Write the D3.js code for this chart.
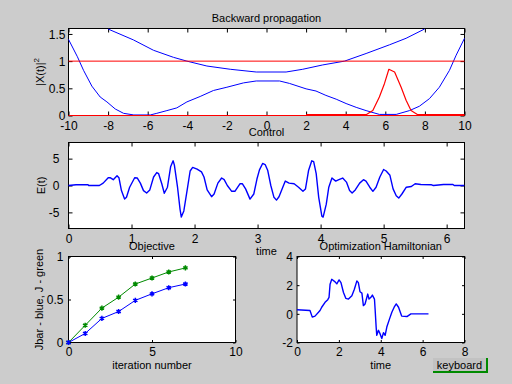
<!DOCTYPE html>
<html>
<head>
<meta charset="utf-8">
<script src="https://cdn.jsdelivr.net/npm/d3@7"></script>
<style>
  body { margin: 0; background: #cccccc; }
  svg { display: block; font-family: "Liberation Sans", Arial, Helvetica, sans-serif; }
</style>
</head>
<body>
<div id="plot"></div>
<script>
// top panel: two potential curves, wave packet, reference levels
var potLowX = [-10, -9.55, -9.24, -8.82, -8.4, -8.06, -7.64, -7.22, -6.7, -5.87, -5.54, -5.03, -4.53, -4.02, -3.35, -2.68, -2.0, -1.16, -0.52, 0.66, 1.16, 2.0, 2.5, 3.0, 3.52, 4.02, 4.53, 5.03, 5.7, 6.55, 7.22, 7.72, 8.23, 8.73, 9.24, 9.58, 10]
var potLow = [1.40, 1.08, 0.83, 0.54, 0.34, 0.25, 0.12, 0.04, 0.01, 0.01, 0.04, 0.09, 0.14, 0.25, 0.35, 0.46, 0.52, 0.60, 0.635, 0.635, 0.59, 0.49, 0.45, 0.37, 0.30, 0.22, 0.15, 0.09, 0.02, 0.02, 0.09, 0.17, 0.31, 0.52, 0.83, 1.11, 1.42]
var potUpX = [-8, -6.72, -5.71, -4.7, -4.02, -3.01, -1.83, -0.52, 0.99, 1.83, 2.84, 3.94, 5.03, 6.21, 7.05, 7.98]
var potUp = [1.59, 1.39, 1.20, 1.07, 1.0, 0.91, 0.85, 0.80, 0.80, 0.85, 0.93, 1.0, 1.14, 1.30, 1.42, 1.59]
var waveX = [2, 5.03, 5.37, 5.7, 5.96, 6.18, 6.47, 6.8, 7.05, 7.3, 7.64, 10]
var wave = [0.015, 0.015, 0.09, 0.34, 0.59, 0.85, 0.80, 0.52, 0.28, 0.09, 0.015, 0.015]
var levels = [0, 1]

// middle panel: control field
var tE = [0, 0.12, 0.31, 0.32, 0.49, 0.55, 0.63, 0.66, 0.71, 0.77, 0.80, 0.84, 0.89, 0.92, 0.97, 1.05, 1.09, 1.14, 1.19, 1.24, 1.29, 1.35, 1.40, 1.43, 1.48, 1.52, 1.57, 1.62, 1.66, 1.68, 1.73, 1.77, 1.79, 1.83, 1.89, 1.93, 1.97, 2.04, 2.11, 2.15, 2.20, 2.27, 2.31, 2.37, 2.43, 2.47, 2.52, 2.59, 2.64, 2.72, 2.76, 2.81, 2.88, 2.94, 2.99, 3.03, 3.08, 3.12, 3.16, 3.21, 3.26, 3.30, 3.34, 3.40, 3.44, 3.50, 3.58, 3.65, 3.72, 3.76, 3.81, 3.86, 3.89, 3.93, 3.97, 4.02, 4.04, 4.09, 4.13, 4.18, 4.24, 4.29, 4.35, 4.41, 4.46, 4.50, 4.55, 4.62, 4.68, 4.72, 4.78, 4.83, 4.88, 4.94, 5.0, 5.04, 5.10, 5.15, 5.20, 5.24, 5.29, 5.36, 5.44, 5.50, 5.59, 5.76, 5.79, 5.95, 6.10, 6.12, 6.28]
var E = [0, 0.13, 0.13, 0, 0, 0.44, 1.45, 1.45, 1.08, 1.83, 1.45, -0.95, -2.53, -2.2, -0.32, 1.45, 1.4, 0.44, -0.95, -1.39, -0.82, 1.58, 2.4, 2.2, 0.32, -1.45, -0.32, 3.47, 4.6, 3.8, -0.32, -4.43, -5.88, -4.74, -0.32, 2.7, 3.36, 3.04, 2.53, 1.58, -0.82, -2.09, -1.58, 0.44, 1.39, 1.08, 0, -1.08, -1.08, 0.32, 0.32, -0.63, -2.53, -1.58, 1.2, 2.9, 4.1, 3.9, 2.85, 0, -2.2, -2.72, -2.09, -0.32, 0.82, 0.44, 0.32, -0.32, -1.08, -0.63, 2.85, 4.6, 4.43, 2.2, -2.2, -5.7, -5.88, -3.48, -0.32, 1.39, 0.82, 1.08, 1.39, 0.63, -0.95, -1.4, -0.82, 0.44, 1.08, 0.82, -0.32, -1.08, -0.32, 1.58, 2.98, 2.7, 1.9, -0.63, -1.9, -2.34, -1.58, -0.32, -0.19, 0.32, 0.19, 0.13, 0, 0.19, 0.19, 0, 0]

// bottom left: objective per iteration
var iters = [0, 1, 2, 3, 4, 5, 6, 7]
var J = [0, 0.20, 0.40, 0.527, 0.68, 0.75, 0.82, 0.867]
var Jbar = [0, 0.105, 0.28, 0.36, 0.49, 0.566, 0.637, 0.68]

// bottom right: optimization hamiltonian
var tH = [0, 0.62, 0.73, 0.86, 1.10, 1.18, 1.34, 1.47, 1.53, 1.58, 1.66, 1.82, 1.90, 2.01, 2.10, 2.22, 2.33, 2.46, 2.62, 2.74, 2.86, 2.93, 3.01, 3.10, 3.17, 3.25, 3.38, 3.44, 3.53, 3.60, 3.70, 3.73, 3.78, 3.81, 3.89, 3.97, 4.05, 4.13, 4.21, 4.29, 4.42, 4.53, 4.64, 4.74, 4.85, 4.96, 5.00, 5.25, 5.44, 6.28]
var H = [0.28, 0.23, -0.23, -0.16, 0.23, 0.46, 0.8, 0.99, 1.15, 2.07, 2.41, 2.23, 2.09, 2.37, 2.18, 1.49, 1.08, 1.03, 1.26, 1.72, 2.3, 2.18, 1.54, 1.45, 0.57, 0.69, 1.38, 1.03, 1.15, 1.31, 1.03, 0.34, -0.92, -1.5, -1.15, -1.4, -1.72, -1.31, -1.5, -0.92, -0.35, 0.11, 0.46, 0.69, 0.46, 0, -0.16, -0.19, 0, 0]

var svg = d3.select("#plot")
  .append("svg")
  .attr("width", 512)
  .attr("height", 384)

svg.append("rect")
  .attr("width", 512)
  .attr("height", 384)
  .attr("fill", "#cccccc")

function makeAxes(o) {
  var w = o.right - o.left, h = o.bottom - o.top
  var g = svg.append("g").attr("transform", "translate(" + o.left + "," + o.top + ")")
  var x = d3.scaleLinear().domain(o.xdom).range([0, w])
  var y = d3.scaleLinear().domain(o.ydom).range([h, 0])
  var fmt = d => String(d)

  g.append("rect").attr("width", w).attr("height", h).attr("fill", "white")

  var ax = [
    [d3.axisBottom(x).tickValues(o.xticks).tickFormat(fmt), "translate(0," + h + ")", "b"],
    [d3.axisTop(x).tickValues(o.xticks).tickFormat(""), null, "t"],
    [d3.axisLeft(y).tickValues(o.yticks).tickFormat(fmt), null, "l"],
    [d3.axisRight(y).tickValues(o.yticks).tickFormat(""), "translate(" + w + ",0)", "r"]
  ]
  ax.forEach(function (a) {
    var s = g.append("g")
      .attr("transform", a[1])
      .call(a[0].tickSizeInner(-o.tick).tickSizeOuter(0))
    s.select(".domain").remove()
    s.selectAll("line").attr("stroke", "black")
    s.attr("font-family", null).attr("font-size", 12)
    s.selectAll("text").attr("fill", "black")
    if (a[2] == "b") s.selectAll("text").attr("y", o.xlab).attr("dy", null)
    if (a[2] == "l") s.selectAll("text").attr("x", -o.ylab).attr("dy", "0.36em")
  })

  g.append("rect").attr("width", w).attr("height", h)
    .attr("fill", "none").attr("stroke", "black").attr("stroke-width", 1)

  g.append("text")
    .attr("x", w / 2).attr("y", -7)
    .attr("text-anchor", "middle").attr("font-size", 11)
    .text(o.title)

  if (o.xlabel) {
    g.append("text")
      .attr("x", w / 2).attr("y", h + 26)
      .attr("text-anchor", "middle").attr("font-size", 11)
      .text(o.xlabel)
  }
  return { g: g, x: x, y: y }
}

function drawLine(a, xs, ys, color, width) {
  var line = d3.line()
    .x((d, i) => a.x(xs[i]))
    .y(d => a.y(d))
  a.g.append("path")
    .datum(ys)
    .attr("d", line)
    .attr("fill", "none")
    .attr("stroke", color)
    .attr("stroke-width", width)
    .attr("stroke-linejoin", "round")
}

// --- Backward propagation
var a1 = makeAxes({ left: 68.5, right: 464.5, top: 28.5, bottom: 115.5, xdom: [-10, 10], ydom: [0, 1.6],
  xticks: d3.range(-10, 11, 2), yticks: [0, 0.5, 1, 1.5], tick: 4, xlab: 14.5, ylab: 3,
  title: "Backward propagation" })
drawLine(a1, potLowX, potLow, "#0000ff", 1)
drawLine(a1, potUpX, potUp, "#0000ff", 1)
levels.forEach(function (lv) {
  drawLine(a1, [-10, 10], [lv, lv], "#ff0000", 1)
})
drawLine(a1, waveX, wave, "#ff0000", 1.2)

var yl1 = a1.g.append("text")
  .attr("transform", "translate(-25," + (a1.y.range()[0] / 2) + ") rotate(-90)")
  .attr("text-anchor", "middle").attr("font-size", 11)
yl1.append("tspan").text("|X(t)|")
yl1.append("tspan").attr("font-size", 8).attr("dy", -5).text("2")

// --- Control
var a2 = makeAxes({ left: 68.5, right: 464.5, top: 142.5, bottom: 228.5, xdom: [0, 2 * Math.PI], ydom: [-8, 8],
  xticks: [0, 1, 2, 3, 4, 5, 6], yticks: [-5, 0, 5], tick: 4, xlab: 14, ylab: 9,
  title: "Control", xlabel: "time" })
drawLine(a2, tE, E, "#0000ff", 1.4)
a2.g.append("text")
  .attr("transform", "translate(-24," + (a2.y.range()[0] / 2) + ") rotate(-90)")
  .attr("text-anchor", "middle").attr("font-size", 11)
  .text("E(t)")

// --- Objective
var a3 = makeAxes({ left: 68.5, right: 235.5, top: 256.5, bottom: 342.5, xdom: [0, 10], ydom: [0, 1],
  xticks: [0, 5, 10], yticks: [0, 0.5, 1], tick: 2.5, xlab: 13.5, ylab: 5,
  title: "Objective", xlabel: "iteration number" })
drawLine(a3, iters, J, "#008a00", 1)
drawLine(a3, iters, Jbar, "#0000ff", 1)
var star = d3.symbol(d3.symbolAsterisk || d3.symbolCross, 18)
;[[J, "#008a00"], [Jbar, "#0000ff"]].forEach(function (s) {
  a3.g.selectAll(null)
    .data(s[0])
    .enter()
    .append("path")
    .attr("d", star)
    .attr("transform", (d, i) => "translate(" + a3.x(iters[i]) + "," + a3.y(d) + ")")
    .attr("fill", s[1])
    .attr("stroke", s[1])
    .attr("stroke-width", 1.5)
})
a3.g.append("text")
  .attr("transform", "translate(-26," + (a3.y.range()[0] / 2) + ") rotate(-90)")
  .attr("text-anchor", "middle").attr("font-size", 11)
  .text("Jbar - blue, J - green")

// --- Optimization Hamiltonian
var a4 = makeAxes({ left: 297, right: 464.5, top: 256.5, bottom: 342.5, xdom: [0, 8], ydom: [-2, 4],
  xticks: [0, 2, 4, 6, 8], yticks: [-2, 0, 2, 4], tick: 2.5, xlab: 13.5, ylab: 4,
  title: "Optimization Hamiltonian", xlabel: "time" })
drawLine(a4, tH, H, "#0000ff", 1.4)

// keyboard button
var btn = svg.append("g")
btn.append("rect").attr("x", 433).attr("y", 358).attr("width", 55).attr("height", 15).attr("fill", "#008a00")
btn.append("rect").attr("x", 433).attr("y", 358).attr("width", 53).attr("height", 13).attr("fill", "#c2c2c2")
btn.append("text")
  .attr("x", 459.5).attr("y", 368.5)
  .attr("text-anchor", "middle").attr("font-size", 11)
  .text("keyboard")
</script>
</body>
</html>
